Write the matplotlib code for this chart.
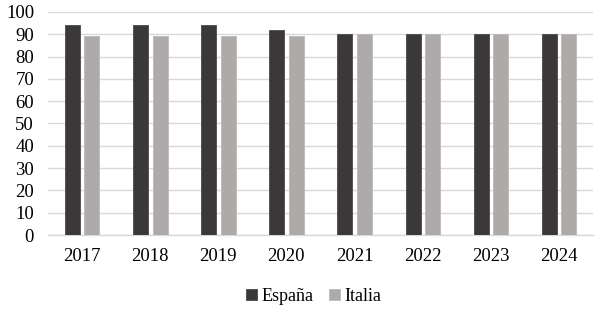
import numpy as np
import matplotlib.pyplot as plt

plt.rcParams['font.family'] = ['Liberation Serif', 'DejaVu Serif']

years = ['2017', '2018', '2019', '2020', '2021', '2022', '2023', '2024']
espana = [94, 94, 94, 92, 90, 90, 90, 90]
italia = [89, 89, 89, 89, 90, 90, 90, 90]

fig = plt.figure(figsize=(6, 3.13), dpi=100)
ax = fig.add_axes([0.08, 0.249, 0.908, 0.713])

x = np.arange(len(years))
w = 0.22
ax.bar(x - 0.14, espana, w, color='#3a3839', edgecolor='#4a4848', linewidth=0.6, label='España', zorder=3)
ax.bar(x + 0.145, italia, w, color='#aeaaaa', edgecolor='#bcb9b9', linewidth=0.6, label='Italia', zorder=3)

ax.set_xlim(-0.5, len(years) - 0.5)
ax.set_ylim(0, 100)
ax.set_yticks(range(0, 101, 10))
ax.set_xticks(x)
ax.set_xticklabels(years)
ax.tick_params(axis='both', length=0, labelsize=13.5)
ax.tick_params(axis='x', pad=9)
ax.tick_params(axis='y', pad=10)
ax.grid(axis='y', color='#d9d9d9', linewidth=1, zorder=0)
for s in ['top', 'right', 'left']:
    ax.spines[s].set_visible(False)
ax.spines['bottom'].set_color('#d9d9d9')
ax.spines['bottom'].set_linewidth(1)

fig.legend(loc='center', bbox_to_anchor=(0.523, 0.054), ncol=2, frameon=False,
           fontsize=13, handlelength=0.6, handleheight=0.6, handletextpad=0.25, columnspacing=0.9)

fig.savefig('out.png', dpi=100)
